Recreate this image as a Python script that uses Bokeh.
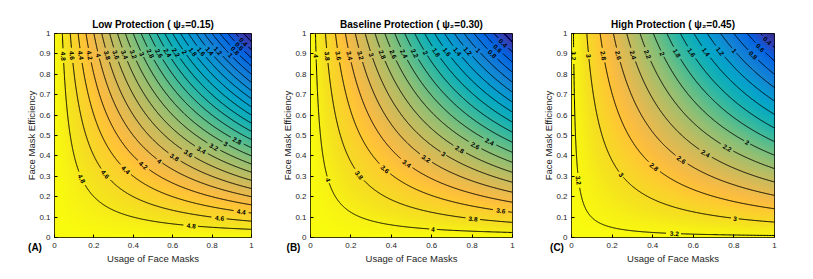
import numpy as np
from bokeh.plotting import figure
from bokeh.layouts import row
from bokeh.models import LinearColorMapper, FixedTicker, CustomJSTickFormatter, Label
from bokeh.embed import file_html
from bokeh.resources import INLINE
from bokeh.core.properties import value

# ---- data ----
# reproduction number as a function of (usage x efficiency) of face masks
prod_eff = [0.0, 0.2, 0.4, 0.6, 0.8, 1.0]
R_low = [5.00, 4.00, 3.00, 2.00, 1.00, 0.00]
R_base = [4.10, 3.29, 2.47, 1.66, 0.84, 0.03]
R_high = [3.23, 2.62, 2.01, 1.41, 0.80, 0.19]
psi2 = ["0.15", "0.30", "0.45"]
titles = ["Low Protection", "Baseline Protection", "High Protection"]
letters = ["(A)", "(B)", "(C)"]
contour_levels = [round(0.2 * k, 1) for k in range(1, 25)]
x_ticks = [0, 0.2, 0.4, 0.6, 0.8, 1]
y_ticks = [0, 0.1, 0.2, 0.3, 0.4, 0.5, 0.6, 0.7, 0.8, 0.9, 1]

# ---- parula colormap ----
par_pos = [0, 4, 8, 12, 16, 20, 24, 28, 32, 36, 40, 44, 48, 52, 54, 56, 58, 60, 63]
par_hex = ["#352a87", "#3243ba", "#0363e1", "#0d75dc", "#1485d4", "#0998d1", "#06a7c6",
           "#15b1b4", "#38b99e", "#65be86", "#92bf73", "#b7bd64", "#d9ba56", "#f8bb44",
           "#ffc337", "#fcce2e", "#f7d826", "#f5e41d", "#f9fb0e"]


def make_palette(n=256):
    pos = np.array(par_pos) / 63.0
    rgb = np.array([[int(h[i:i + 2], 16) for i in (1, 3, 5)] for h in par_hex], float)
    t = np.linspace(0, 1, n)
    out = []
    for v in t:
        c = [int(round(np.interp(v, pos, rgb[:, k]))) for k in range(3)]
        out.append("#%02x%02x%02x" % tuple(c))
    return out


PAL = make_palette()
FONT = "Liberation Sans"
TXT = "#262626"

geoms = [
    dict(fw=197, bl=54, br=24, lx=-19.5),
    dict(fw=202, bl=35, br=23, lx=-17.0),
    dict(fw=203, bl=36, br=28, lx=-14.5),
]
FH = 204
TOP = 33
BOT = 40


def panel(k, R):
    g = geoms[k]
    fw = g["fw"]
    p = figure(frame_width=fw, frame_height=FH, x_range=(0, 1), y_range=(0, 1),
               min_border_left=g["bl"], min_border_right=g["br"],
               min_border_top=TOP, min_border_bottom=BOT,
               output_backend="svg", toolbar_location=None,
               title=f"{titles[k]} ( \u03c8\u2082={psi2[k]})")
    p.title.align = "center"
    p.title.text_font = FONT
    p.title.text_font_size = "10px"
    p.title.text_font_style = "bold"
    p.title.text_color = "black"
    p.title.standoff = 7

    N = 300
    g1 = np.linspace(0, 1, N)
    U, E = np.meshgrid(g1, g1)
    z = np.interp(U * E, prod_eff, R)
    cm = LinearColorMapper(palette=PAL, low=float(z.min()), high=float(z.max()))
    p.image(image=[z], x=0, y=0, dw=1, dh=1, color_mapper=cm)

    xs, ys = [], []
    lx, ly, lt, la = [], [], [], []
    Rr = R[::-1]
    Pr = prod_eff[::-1]
    for L in contour_levels:
        if L <= min(R) + 0.02 or L >= max(R) - 0.02:
            continue
        c = float(np.interp(L, Rr, Pr))
        t = np.linspace(0, 1, 600)
        u = c ** (1 - t)
        e = c ** t
        sx = u * fw
        sy = e * FH
        ds = np.hypot(np.diff(sx), np.diff(sy))
        s = np.concatenate([[0], np.cumsum(ds)])
        tot = s[-1]
        if tot < 60:
            pos = [tot / 2] if tot > 14 else []
        else:
            pos = [22 + j * 125 for j in range(10) if 22 + j * 125 < tot - 10]
        txt = f"{L:g}"
        half = len(txt) * 1.9 + 1.5
        mask = np.ones_like(s, dtype=bool)
        for sp in pos:
            mask &= np.abs(s - sp) > half
            i = int(np.searchsorted(s, sp))
            i = min(max(i, 1), len(s) - 2)
            ang = np.arctan2(sy[i + 1] - sy[i - 1], sx[i + 1] - sx[i - 1])
            if ang < -np.pi / 2:
                ang += np.pi
            if ang > np.pi / 2:
                ang -= np.pi
            lx.append(float(u[i]))
            ly.append(float(e[i]))
            lt.append(txt)
            la.append(float(ang))
        idx = np.where(mask)[0]
        if len(idx) == 0:
            continue
        breaks = np.where(np.diff(idx) > 1)[0]
        starts = np.concatenate([[0], breaks + 1])
        ends = np.concatenate([breaks, [len(idx) - 1]])
        for a, b in zip(starts, ends):
            seg = idx[a:b + 1]
            if len(seg) < 2:
                continue
            xs.append(u[seg].tolist())
            ys.append(e[seg].tolist())

    p.multi_line(xs=xs, ys=ys, line_color="black", line_width=1.0)
    p.text(x=lx, y=ly, text=lt, angle=la, text_font=value(FONT), text_font_size="6.5px",
           text_font_style="bold",
           text_align="center", text_baseline="middle", text_color="black")

    for ax, ticks in ((p.xaxis, x_ticks), (p.yaxis, y_ticks)):
        ax.ticker = FixedTicker(ticks=ticks)
        ax.formatter = CustomJSTickFormatter(code="return (Math.round(tick*10)/10).toString();")
        ax.major_tick_in = 3
        ax.major_tick_out = 0
        ax.minor_tick_line_color = None
        ax.major_tick_line_color = "black"
        ax.axis_line_color = None
        ax.major_label_text_font = FONT
        ax.major_label_text_font_size = "8px"
        ax.major_label_text_color = TXT
        ax.axis_label_text_font = FONT
        ax.axis_label_text_font_size = "9.5px"
        ax.axis_label_text_font_style = "normal"
        ax.axis_label_text_color = TXT
    p.xaxis.axis_label = "Usage of Face Masks"
    p.yaxis.axis_label = "Face Mask Efficiency"
    p.xaxis.major_label_standoff = 5
    p.yaxis.major_label_standoff = 4
    p.xaxis.axis_label_standoff = 2
    p.yaxis.axis_label_standoff = -1
    p.grid.visible = False
    p.outline_line_color = "black"
    p.outline_line_width = 1
    p.background_fill_color = "white"
    p.border_fill_color = "white"

    # panel letter, placed in a side panel so that it is not clipped to the frame
    lab = Label(x=g["lx"] / fw, y=-9.5 / FH, text=letters[k], text_font=FONT,
                text_font_size="10px", text_font_style="bold", text_color="black",
                text_align="center", text_baseline="middle")
    p.add_layout(lab, "right")
    return p


pA = panel(0, R_low)
pB = panel(1, R_base)
pC = panel(2, R_high)
lay = row(pA, pB, pC, spacing=0)
open("out.html", "w").write(file_html(lay, INLINE))
